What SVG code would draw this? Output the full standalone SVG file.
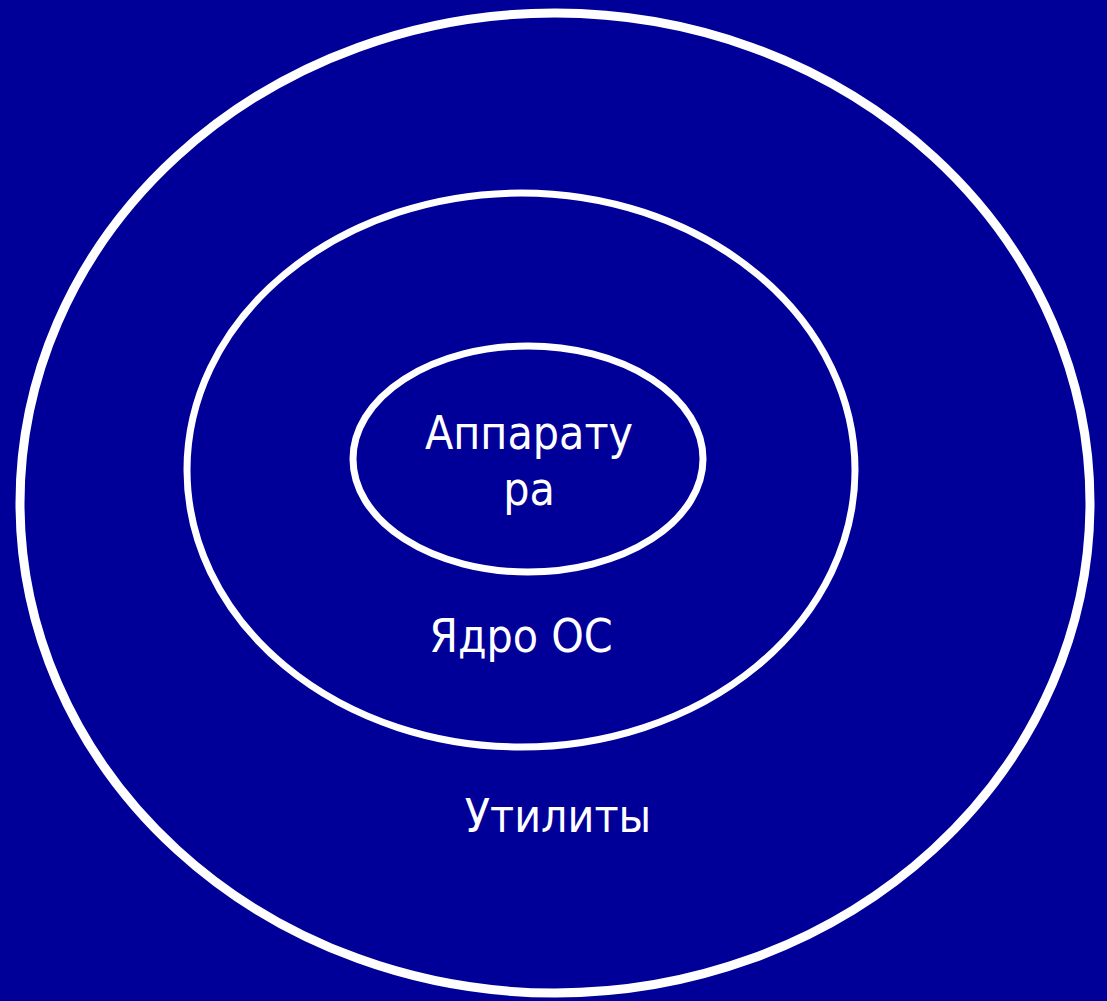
<svg xmlns="http://www.w3.org/2000/svg" width="1107" height="1001" viewBox="0 0 1107 1001">
<style>
.ring{fill:none;stroke:#ffffff}
.lbl{fill:#ffffff;font-family:"DejaVu Sans Condensed","DejaVu Sans","Liberation Sans",sans-serif;font-stretch:condensed;font-size:46px;text-anchor:middle}
</style>
<rect width="1107" height="1001" fill="#000099"/>
<g id="outer">
<ellipse class="ring" cx="555" cy="503" rx="535" ry="490" stroke-width="9"/>
<text class="lbl" x="558" y="832">Утилиты</text>
</g>
<g id="middle">
<ellipse class="ring" cx="521" cy="470" rx="334" ry="277" stroke-width="7"/>
<text class="lbl" x="521" y="652">Ядро ОС</text>
</g>
<g id="inner">
<ellipse class="ring" cx="528" cy="459" rx="175" ry="113" stroke-width="7"/>
<text class="lbl" x="529" y="449">Аппарату</text>
<text class="lbl" x="529" y="505">ра</text>
</g>
<g id="connectors"/>
</svg>
